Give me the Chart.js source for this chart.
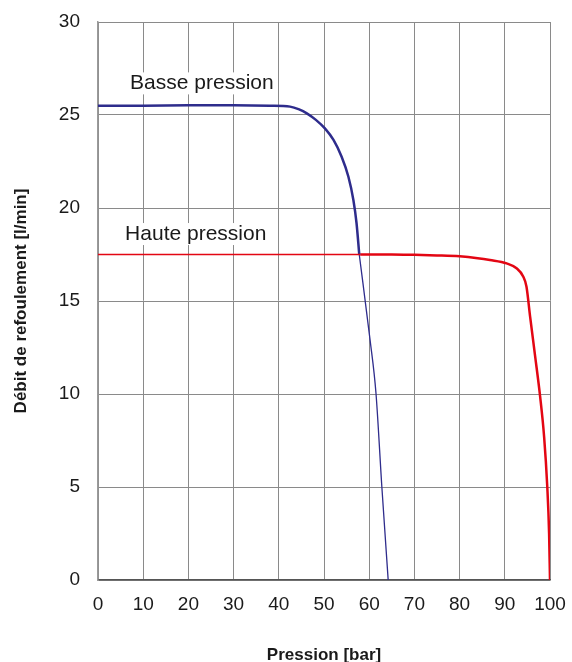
<!DOCTYPE html>
<html>
<head>
<meta charset="utf-8">
<script src="https://cdn.jsdelivr.net/npm/chart.js@4.4.0/dist/chart.umd.min.js"></script>
<style>
  html, body { margin: 0; padding: 0; background: #fff; }
  #wrap { width: 572px; height: 662px; position: relative; }
</style>
</head>
<body>
<div id="wrap"><canvas id="grafica"></canvas></div>
<script>
// Basse pression (trait épais)
const basseX = [0, 10, 20, 30, 38, 42.5, 44.5, 46.2, 48.2, 50.2, 52.1, 53.9, 55.4, 56.5, 57.2, 57.8];
const basseY = [25.5, 25.5, 25.52, 25.52, 25.5, 25.45, 25.3, 25.09, 24.74, 24.28, 23.66, 22.76, 21.68, 20.43, 19.18, 17.5];
// Basse pression (prolongement fin)
const basseFinX = [57.8, 60.2, 61.5, 62.8, 64.2];
const basseFinY = [17.5, 12.9, 10.04, 5.0, 0];
// Haute pression (trait fin)
const hauteFinX = [0, 58];
const hauteFinY = [17.5, 17.5];
// Haute pression (trait épais)
const hauteX = [58, 65, 70, 75, 80, 84, 86.7, 90.4, 92.6, 94.1, 94.8, 95.6, 96.7, 97.8, 98.7, 99.4, 99.8, 100];
const hauteY = [17.5, 17.5, 17.48, 17.45, 17.4, 17.3, 17.2, 17.02, 16.76, 16.3, 15.77, 14.16, 12.05, 9.9, 7.7, 5.0, 2.5, 0];

const xTicks = [0, 10, 20, 30, 40, 50, 60, 70, 80, 90, 100];
const yTicks = [0, 5, 10, 15, 20, 25, 30];

const bleu = '#2e2c8c';
const rouge = '#e30613';

const points = (xs, ys) => xs.map((x, i) => ({ x: x, y: ys[i] }));

// étiquettes des courbes, avec fond blanc
const etiquettes = {
    id: 'etiquettes',
    afterDatasetsDraw(chart) {
        const ctx = chart.ctx;
        const sx = chart.scales.x;
        const sy = chart.scales.y;
        const textes = [
            { texte: 'Basse pression', x: 7.1, y: 26.7 },
            { texte: 'Haute pression', x: 6.0, y: 18.6 }
        ];
        ctx.save();
        ctx.font = '21px "Liberation Sans", Arial, sans-serif';
        ctx.textBaseline = 'middle';
        ctx.textAlign = 'left';
        textes.forEach(t => {
            const px = sx.getPixelForValue(t.x);
            const py = sy.getPixelForValue(t.y);
            const w = ctx.measureText(t.texte).width;
            ctx.fillStyle = '#fff';
            ctx.fillRect(px - 3, py - 11, w + 6, 22);
            ctx.fillStyle = '#1a1a1a';
            ctx.fillText(t.texte, px, py);
        });
        ctx.restore();
    }
};

const ctx = document.getElementById('grafica').getContext('2d');

new Chart(ctx, {
    type: 'line',
    data: {
        datasets: [
            {
                label: 'Haute pression fin',
                data: points(hauteFinX, hauteFinY),
                borderColor: rouge,
                borderWidth: 1.3
            },
            {
                label: 'Basse pression fin',
                data: points(basseFinX, basseFinY),
                borderColor: bleu,
                borderWidth: 1.3,
                cubicInterpolationMode: 'monotone'
            },
            {
                label: 'Basse pression',
                data: points(basseX, basseY),
                borderColor: bleu,
                borderWidth: 2.5,
                cubicInterpolationMode: 'monotone'
            },
            {
                label: 'Haute pression',
                data: points(hauteX, hauteY),
                borderColor: rouge,
                borderWidth: 2.5,
                cubicInterpolationMode: 'monotone'
            }
        ]
    },
    options: {
        responsive: true,
        maintainAspectRatio: false,
        animation: false,
        elements: { point: { radius: 0 } },
        layout: { padding: { top: 22, right: 22, left: 0, bottom: 0 } },
        plugins: {
            legend: { display: false },
            tooltip: { enabled: false }
        },
        scales: {
            x: {
                type: 'linear',
                min: 0,
                max: 100,
                afterBuildTicks: (scale) => { scale.ticks = xTicks.map(v => ({ value: v })); },
                afterFit: (scale) => {
                    scale.height = 82;
                    scale.paddingLeft = 0;
                    scale.paddingRight = 0;
                },
                grid: { color: '#8a8a8a', lineWidth: 1, drawTicks: false },
                border: { color: '#555', width: 1.5 },
                ticks: {
                    padding: 13,
                    color: '#1a1a1a',
                    font: { family: '"Liberation Sans", Arial, sans-serif', size: 19 }
                },
                title: {
                    display: true,
                    text: 'Pression [bar]',
                    color: '#1a1a1a',
                    padding: { top: 0, bottom: 0 },
                    font: { family: '"Liberation Sans", Arial, sans-serif', size: 17, weight: 'bold', lineHeight: 0.8 }
                }
            },
            y: {
                type: 'linear',
                min: 0,
                max: 30,
                afterBuildTicks: (scale) => { scale.ticks = yTicks.map(v => ({ value: v })); },
                afterFit: (scale) => {
                    scale.width = 98;
                    scale.paddingTop = 0;
                    scale.paddingBottom = 0;
                },
                grid: { color: '#8a8a8a', lineWidth: 1, drawTicks: false },
                border: { color: '#9a9a9a', width: 1.5 },
                ticks: {
                    padding: 18,
                    color: '#1a1a1a',
                    font: { family: '"Liberation Sans", Arial, sans-serif', size: 19 }
                },
                title: {
                    display: true,
                    text: 'Débit de refoulement [l/min]',
                    color: '#1a1a1a',
                    padding: { top: 11, bottom: 0 },
                    font: { family: '"Liberation Sans", Arial, sans-serif', size: 17, weight: 'bold' }
                }
            }
        }
    },
    plugins: [etiquettes]
});
</script>
</body>
</html>
